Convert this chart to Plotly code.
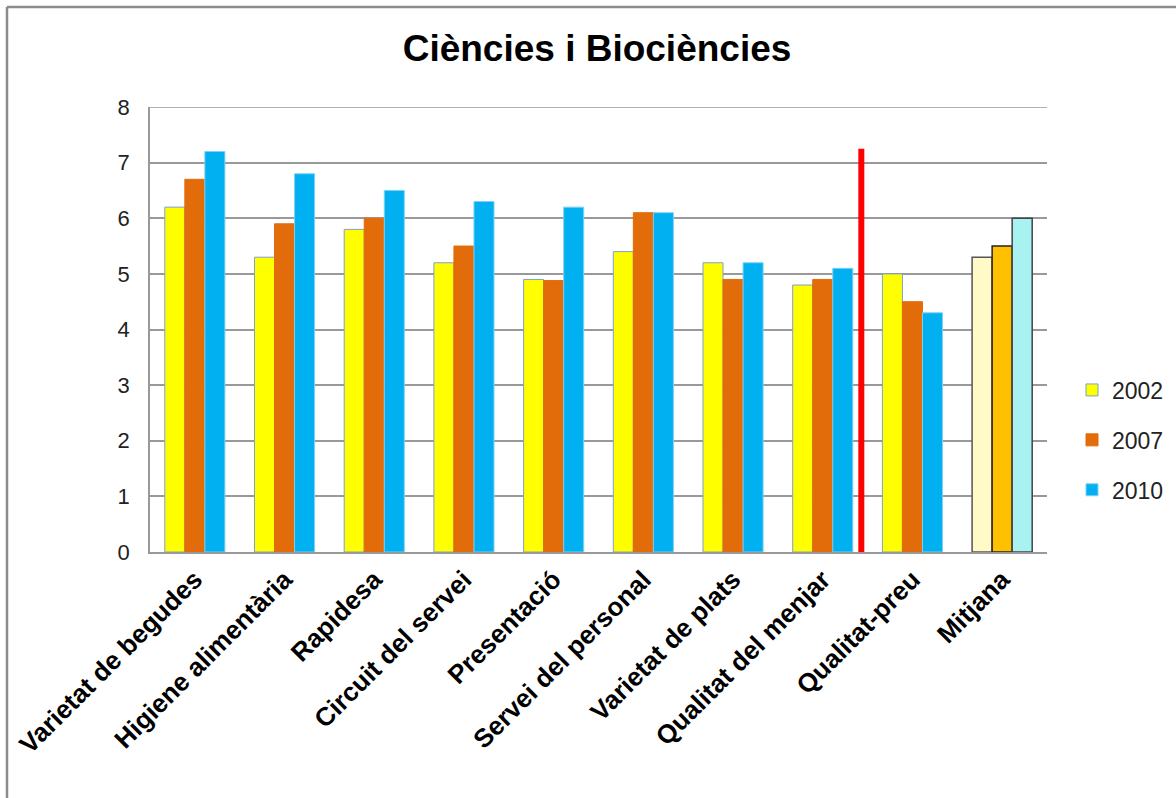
import plotly.graph_objects as go

categories = ["Varietat de begudes", "Higiene alimentària", "Rapidesa", "Circuit del servei",
              "Presentació", "Servei del personal", "Varietat de plats", "Qualitat del menjar",
              "Qualitat-preu", "Mitjana"]
years = ["2002", "2007", "2010"]
v2002 = [6.2, 5.3, 5.8, 5.2, 4.9, 5.4, 5.2, 4.8, 5.0, 5.3]
v2007 = [6.7, 5.9, 6.0, 5.5, 4.88, 6.1, 4.9, 4.9, 4.5, 5.5]
v2010 = [7.2, 6.8, 6.5, 6.3, 6.2, 6.1, 5.2, 5.1, 4.3, 6.0]
y_ticks = [0, 1, 2, 3, 4, 5, 6, 7, 8]
separator_pos = 7.43
separator_top = 7.25

base_colors = ["#FFFF00", "#E36C0A", "#00B0F0"]
base_lines = ["#7F9FD0", "#E36C0A", "#7FD0F5"]
mean_colors = ["#FFFAC8", "#FFC000", "#A8F2F2"]
mean_lines = ["#555555", "#222222", "#444444"]

fig = go.Figure()
for i, (name, vals) in enumerate(zip(years, [v2002, v2007, v2010])):
    n = len(categories)
    colors = [base_colors[i]] * (n - 1) + [mean_colors[i]]
    lcolors = [base_lines[i]] * (n - 1) + [mean_lines[i]]
    lwidths = [1] * (n - 1) + [1.5]
    fig.add_trace(go.Bar(
        x=categories, y=vals, name=name, legendgroup=name,
        marker=dict(color=colors, line=dict(color=lcolors, width=lwidths)),
    ))

fig.add_shape(type="line", xref="x", yref="y",
              x0=separator_pos, x1=separator_pos, y0=0, y1=separator_top,
              line=dict(color="#FF0000", width=6))

# top gridline at the max tick
fig.add_shape(type="line", xref="paper", yref="y", x0=0, x1=1,
              y0=y_ticks[-1], y1=y_ticks[-1], line=dict(color="#999", width=1.5), layer="below")

# outer frame (top and left visible)
px_l, px_r, py_t, py_b = 150, 1047, 107, 552
def px2x(p):
    return (p - px_l) / (px_r - px_l)
def py2y(p):
    return (py_b - p) / (py_b - py_t)
fig.add_shape(type="line", xref="paper", yref="paper",
              x0=px2x(7), x1=px2x(1180), y0=py2y(7), y1=py2y(7),
              line=dict(color="#8C8C8C", width=2.5))
fig.add_shape(type="line", xref="paper", yref="paper",
              x0=px2x(7), x1=px2x(7), y0=py2y(7), y1=py2y(800),
              line=dict(color="#8C8C8C", width=2.5))

fig.update_layout(
    width=1176, height=798,
    margin=dict(l=150, r=129, t=107, b=246, autoexpand=False),
    paper_bgcolor="white", plot_bgcolor="white",
    barmode="group", bargap=0.33, bargroupgap=0,
    title=dict(text="<b>Ciències i Biociències</b>", x=597/1176, xanchor="center",
               y=1 - 48/798, yanchor="middle",
               font=dict(family="Liberation Sans, Arial", size=37, color="black")),
    legend=dict(x=px2x(1072), y=py2y(440), xanchor="left", yanchor="middle",
                font=dict(family="Liberation Sans, Arial", size=23, color="#222"),
                traceorder="grouped", tracegroupgap=17, itemwidth=30),
    showlegend=True,
)
fig.update_xaxes(tickangle=-45, showline=True, linecolor="#999", linewidth=2,
                 tickfont=dict(family="Liberation Sans, Arial", size=26, color="black", weight="bold"),
                 ticks="", showgrid=False)
fig.update_yaxes(range=[0, 8], tickvals=y_ticks, showgrid=True, gridcolor="#999", gridwidth=1.5,
                 showline=True, linecolor="#999", linewidth=1.5, zeroline=False,
                 ticks="", ticklabelstandoff=14,
                 tickfont=dict(family="Liberation Sans, Arial", size=22, color="#222"))

fig.write_html("out.html", config={"displayModeBar": False},
               post_script="document.body.style.margin='0';")
